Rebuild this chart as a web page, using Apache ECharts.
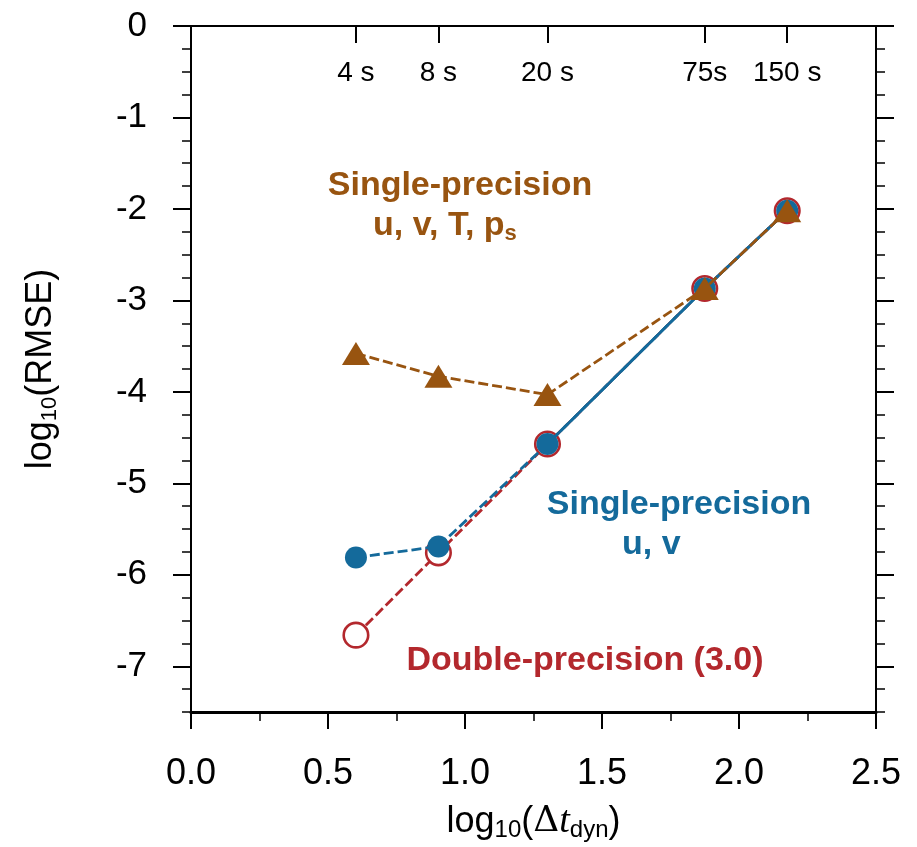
<!DOCTYPE html>
<html><head><meta charset="utf-8">
<script src="https://cdn.jsdelivr.net/npm/echarts@6/dist/echarts.min.js"></script>
<style>html,body{margin:0;padding:0;background:#fff}#c{width:917px;height:847px}</style>
</head><body><div id="c"></div>
<script>
// ---- data ----
const stepLabels = ['4 s', '8 s', '20 s', '75s', '150 s'];
const logDt = [0.602, 0.903, 1.301, 1.875, 2.176];
const doublePrecision = [-6.66, -5.76, -4.57, -2.87, -2.02];
const singleUV = [-5.81, -5.69, -4.57, -2.87, -2.02];
const singleUVTps = [-3.58, -3.83, -4.03, -2.87, -2.02];
const yMajorTicks = [0, -1, -2, -3, -4, -5, -6, -7];
const yMinorTicks = [-0.25, -0.5, -0.75, -1.25, -1.5, -1.75, -2.25, -2.5, -2.75, -3.25, -3.5, -3.75,
  -4.25, -4.5, -4.75, -5.25, -5.5, -5.75, -6.25, -6.5, -6.75, -7.25, -7.5];

const BROWN = '#985410', BLUE = '#146A9B', RED = '#B3282D';
const FONT = 'Liberation Sans';

const pairs = (xs, ys) => xs.map((x, i) => [x, ys[i]]);

const chart = echarts.init(document.getElementById('c'), null, {renderer: 'canvas'});

const dash = [10, 4];
const LW = 2.8;
const sideAxisBase = {
  type: 'value', min: -7.5, max: 0, splitLine: {show: false}, minorTick: {show: false}
};

chart.setOption({
  animation: false,
  backgroundColor: '#fff',
  grid: {left: 191, right: 41, top: 26, bottom: 135, outerBoundsMode: 'none', containLabel: false},
  xAxis: [
    {
      type: 'value', position: 'bottom', min: 0, max: 2.5, interval: 0.5,
      axisLine: {show: true, onZero: false, lineStyle: {color: '#000', width: 3}},
      axisTick: {show: true, inside: false, length: 17, lineStyle: {color: '#000', width: 2}},
      minorTick: {show: true, splitNumber: 2, length: 9, lineStyle: {color: '#000', width: 1.5}},
      splitLine: {show: false},
      axisLabel: {margin: 44, fontSize: 36, color: '#000', fontFamily: FONT,
        formatter: v => v.toFixed(1)},
      name: 'log{sub|10}({delta|Δ}{it|t}{sub|dyn})',
      nameLocation: 'middle', nameGap: 90,
      nameTextStyle: {
        fontSize: 36, color: '#000', fontFamily: FONT, lineHeight: 40,
        rich: {
          sub: {fontSize: 24, fontFamily: FONT, color: '#000', lineHeight: 14, verticalAlign: 'bottom'},
          delta: {fontSize: 36, fontFamily: 'DejaVu Serif', color: '#000', lineHeight: 40, fontWeight: 'normal'},
          it: {fontSize: 38, fontFamily: 'Liberation Serif', fontStyle: 'italic', color: '#000', lineHeight: 40}
        }
      }
    },
    {
      type: 'value', position: 'top', min: 0, max: 2.5,
      axisLine: {show: true, onZero: false, lineStyle: {color: '#000', width: 2}},
      axisTick: {show: true, inside: true, length: 17, customValues: logDt, lineStyle: {color: '#000', width: 2}},
      minorTick: {show: false},
      splitLine: {show: false},
      axisLabel: {show: true, inside: true, margin: 33, fontSize: 28, color: '#000', fontFamily: FONT,
        customValues: logDt,
        formatter: v => {
          const i = logDt.findIndex(x => Math.abs(x - v) < 1e-6);
          return i >= 0 ? stepLabels[i] : '';
        }}
    }
  ],
  yAxis: [
    Object.assign({}, sideAxisBase, {
      position: 'left',
      axisLine: {show: true, onZero: false, lineStyle: {color: '#000', width: 2}},
      axisTick: {show: true, inside: false, length: 18, customValues: yMajorTicks, lineStyle: {color: '#000', width: 2}},
      axisLabel: {show: true, customValues: yMajorTicks, margin: 44, fontSize: 35, color: '#000', fontFamily: FONT,
        formatter: v => String(v)},
      name: 'log{sub|10}(RMSE)', nameLocation: 'middle', nameGap: 130, nameRotate: 90,
      nameTextStyle: {
        fontSize: 36, color: '#000', fontFamily: FONT, lineHeight: 40,
        rich: {sub: {fontSize: 22, fontFamily: FONT, color: '#000', lineHeight: 14, verticalAlign: 'bottom'}}
      }
    }),
    Object.assign({}, sideAxisBase, {
      position: 'left',
      axisLine: {show: false, onZero: false},
      axisTick: {show: true, inside: false, length: 9, customValues: yMinorTicks, lineStyle: {color: '#000', width: 1.5}},
      axisLabel: {show: false}
    }),
    Object.assign({}, sideAxisBase, {
      position: 'right',
      axisLine: {show: true, onZero: false, lineStyle: {color: '#000', width: 2}},
      axisTick: {show: true, inside: false, length: 18, customValues: yMajorTicks, lineStyle: {color: '#000', width: 2}},
      axisLabel: {show: false}
    }),
    Object.assign({}, sideAxisBase, {
      position: 'right',
      axisLine: {show: false, onZero: false},
      axisTick: {show: true, inside: false, length: 9, customValues: yMinorTicks, lineStyle: {color: '#000', width: 1.5}},
      axisLabel: {show: false}
    })
  ],
  series: [
    {
      name: 'Double-precision (3.0)', type: 'line', xAxisIndex: 0, yAxisIndex: 0,
      data: pairs(logDt, doublePrecision),
      symbol: 'circle', symbolSize: 24.5,
      itemStyle: {color: '#fff', borderColor: RED, borderWidth: 2.6, opacity: 1},
      lineStyle: {color: RED, width: LW, type: dash},
      z: 2
    },
    {
      name: 'Single-precision u, v', type: 'line', xAxisIndex: 0, yAxisIndex: 0,
      data: pairs(logDt, singleUV),
      symbol: 'circle', symbolSize: 22,
      itemStyle: {color: BLUE, borderWidth: 0},
      lineStyle: {color: BLUE, width: LW, type: dash},
      z: 3
    },
    {
      name: 'Single-precision u, v (solid)', type: 'line', xAxisIndex: 0, yAxisIndex: 0,
      data: pairs(logDt.slice(2), singleUV.slice(2)),
      symbol: 'none',
      lineStyle: {color: BLUE, width: LW, type: 'solid'},
      z: 3
    },
    {
      name: 'Single-precision u, v, T, ps', type: 'line', xAxisIndex: 0, yAxisIndex: 0,
      data: pairs(logDt, singleUVTps),
      symbol: 'triangle', symbolSize: [28, 23],
      itemStyle: {color: BROWN, borderWidth: 0},
      lineStyle: {color: BROWN, width: LW, type: dash},
      z: 4
    }
  ],
  graphic: [
    {type: 'text', x: 460, y: 186, z: 10, style: {text: 'Single-precision', fill: BROWN,
      fontSize: 34, fontWeight: 'bold', fontFamily: FONT, align: 'center', verticalAlign: 'middle'}},
    {type: 'text', x: 373, y: 226, z: 10, style: {text: 'u, v, T, p{s|s}', fill: BROWN,
      fontSize: 34, fontWeight: 'bold', fontFamily: FONT, align: 'left', verticalAlign: 'middle', lineHeight: 38,
      rich: {s: {fontSize: 22, fontWeight: 'bold', fontFamily: FONT, fill: BROWN, lineHeight: 14, verticalAlign: 'bottom'}}}},
    {type: 'text', x: 679, y: 505, z: 10, style: {text: 'Single-precision', fill: BLUE,
      fontSize: 34, fontWeight: 'bold', fontFamily: FONT, align: 'center', verticalAlign: 'middle'}},
    {type: 'text', x: 622, y: 545, z: 10, style: {text: 'u, v', fill: BLUE,
      fontSize: 34, fontWeight: 'bold', fontFamily: FONT, align: 'left', verticalAlign: 'middle'}},
    {type: 'text', x: 585, y: 661, z: 10, style: {text: 'Double-precision (3.0)', fill: RED,
      fontSize: 34, fontWeight: 'bold', fontFamily: FONT, align: 'center', verticalAlign: 'middle'}}
  ]
});
</script></body></html>
